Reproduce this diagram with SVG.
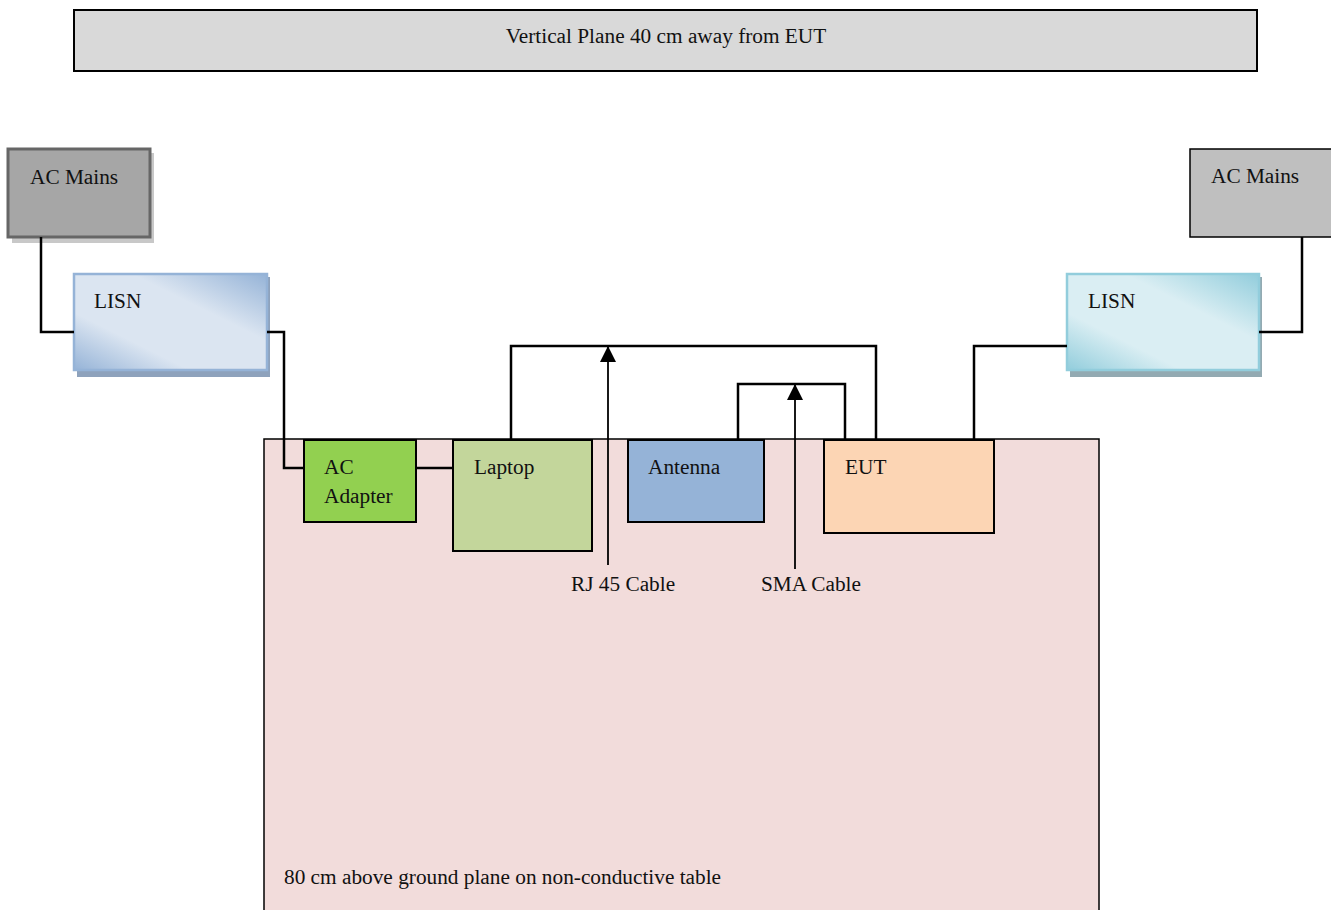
<svg xmlns="http://www.w3.org/2000/svg" width="1331" height="910" viewBox="0 0 1331 910">
<style>
text{font-family:"Liberation Serif","Times New Roman",serif;font-size:21.3px;fill:#111}
.wire{fill:none;stroke:#000;stroke-width:2.5}
.arr{fill:none;stroke:#000;stroke-width:1.8}
.box{stroke:#000;stroke-width:2}
</style>
<defs>
<linearGradient id="gL" x1="0" y1="1" x2="1" y2="0">
<stop offset="0" stop-color="#95b3d7"/>
<stop offset="0.3" stop-color="#dbe5f1"/>
<stop offset="0.65" stop-color="#dbe5f1"/>
<stop offset="1" stop-color="#95b3d7"/>
</linearGradient>
<linearGradient id="gR" x1="0" y1="1" x2="1" y2="0">
<stop offset="0" stop-color="#92cddc"/>
<stop offset="0.3" stop-color="#daeef3"/>
<stop offset="0.65" stop-color="#daeef3"/>
<stop offset="1" stop-color="#92cddc"/>
</linearGradient>
<marker id="ah" markerWidth="16" markerHeight="16" viewBox="0 0 16 16" refX="15" refY="8" orient="auto" markerUnits="userSpaceOnUse">
<path d="M0,0 L16,8 L0,16 Z" fill="#000"/>
</marker>
</defs>

<g id="vertical-plane">
<rect x="74" y="10" width="1183" height="61" fill="#d9d9d9" stroke="#000" stroke-width="2"/>
<text x="666" y="43" text-anchor="middle">Vertical Plane 40 cm away from EUT</text>
</g>

<g id="table">
<rect x="264" y="439" width="835" height="480" fill="#f2dcdb" stroke="#000" stroke-width="1.5"/>
<text x="284" y="884">80 cm above ground plane on non-conductive table</text>
</g>

<g id="ac-mains-left">
<rect x="12" y="153" width="142" height="90" fill="#c8c8c8"/>
<rect x="8" y="149" width="142" height="88" fill="#a6a6a6" stroke="#666" stroke-width="3"/>
<text x="30" y="184">AC Mains</text>
</g>

<g id="lisn-left">
<rect x="77" y="277" width="193" height="100" fill="#8ea2bc"/>
<rect x="74" y="274" width="193" height="96" fill="url(#gL)" stroke="#95b3d7" stroke-width="2.5"/>
<text x="94" y="308">LISN</text>
</g>

<g id="ac-mains-right">
<rect x="1190" y="149" width="142" height="88" fill="#bfbfbf" stroke="#000" stroke-width="1.5"/>
<text x="1211" y="183">AC Mains</text>
</g>

<g id="lisn-right">
<rect x="1070" y="277" width="192" height="100" fill="#93aab2"/>
<rect x="1067" y="274" width="192" height="96" fill="url(#gR)" stroke="#92cddc" stroke-width="2.5"/>
<text x="1088" y="308">LISN</text>
</g>

<g id="ac-adapter">
<rect class="box" x="304" y="440" width="112" height="82" fill="#92d050"/>
<text x="324" y="474">AC</text>
<text x="324" y="503">Adapter</text>
</g>

<g id="laptop">
<rect class="box" x="453" y="440" width="139" height="111" fill="#c3d69b"/>
<text x="474" y="474">Laptop</text>
</g>

<g id="antenna">
<rect class="box" x="628" y="440" width="136" height="82" fill="#95b3d7"/>
<text x="648" y="474">Antenna</text>
</g>

<g id="eut">
<rect class="box" x="824" y="440" width="170" height="93" fill="#fcd5b4"/>
<text x="845" y="474">EUT</text>
</g>

<g id="connectors">
<polyline class="wire" points="41,237 41,332 74,332"/>
<polyline class="wire" points="267,332 284,332 284,468 304,468"/>
<line class="wire" x1="416" y1="468" x2="453" y2="468"/>
<polyline class="wire" points="511,440 511,346 876,346 876,440"/>
<polyline class="wire" points="738,440 738,384 845,384 845,440"/>
<polyline class="wire" points="974,440 974,346 1067,346"/>
<polyline class="wire" points="1259,332 1302,332 1302,237"/>
<line class="arr" x1="608" y1="565" x2="608" y2="347" marker-end="url(#ah)"/>
<line class="arr" x1="795" y1="569" x2="795" y2="385" marker-end="url(#ah)"/>
</g>

<g id="labels">
<text x="571" y="591">RJ 45 Cable</text>
<text x="761" y="591">SMA Cable</text>
</g>
</svg>
